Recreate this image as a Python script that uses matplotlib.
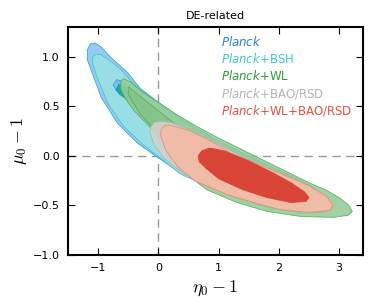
import matplotlib
matplotlib.use('Agg')
import matplotlib.pyplot as plt

plt.rcParams['mathtext.fontset'] = 'dejavusans'

# contour outlines (eta0-1, mu0-1)
planck_95 = [(-1.18, 1.07), (-1.13, 1.13), (-1.05, 1.14), (-0.95, 1.10), (-0.80, 1.00),
             (-0.51, 0.84), (-0.30, 0.68), (0.0, 0.54), (0.30, 0.41), (0.60, 0.29),
             (1.0, 0.15), (1.3, 0.06), (1.6, -0.03), (1.9, -0.12), (2.2, -0.20),
             (2.5, -0.29), (2.7, -0.38), (2.85, -0.48), (2.85, -0.53), (2.78, -0.56),
             (2.35, -0.57), (1.86, -0.52), (1.36, -0.43), (0.86, -0.31), (0.36, -0.17),
             (0.0, -0.02), (-0.35, 0.13), (-0.68, 0.33), (-0.95, 0.59), (-1.10, 0.84),
             (-1.18, 0.97)]
planck_68 = [(-0.75, 0.72), (-0.69, 0.77), (-0.60, 0.75), (-0.3, 0.56), (0.3, 0.28),
             (1.0, 0.02), (1.6, -0.18), (2.1, -0.34), (2.0, -0.40), (1.3, -0.24),
             (0.6, -0.04), (0.1, 0.20), (-0.3, 0.42), (-0.52, 0.57), (-0.70, 0.66)]
bsh_95 = [(-1.09, 1.00), (-1.03, 1.03), (-0.95, 1.02), (-0.80, 0.96), (-0.62, 0.87),
          (-0.40, 0.72), (-0.15, 0.60), (0.0, 0.53), (0.30, 0.40), (0.60, 0.28),
          (1.0, 0.14), (1.3, 0.05), (1.6, -0.04), (1.9, -0.13), (2.2, -0.21),
          (2.5, -0.30), (2.7, -0.39), (2.82, -0.50), (2.75, -0.57), (2.35, -0.58),
          (1.86, -0.53), (1.36, -0.44), (0.86, -0.32), (0.36, -0.18), (0.03, -0.02),
          (-0.25, 0.11), (-0.58, 0.30), (-0.85, 0.54), (-1.02, 0.80), (-1.09, 0.93)]
bsh_68 = [(-0.70, 0.67), (-0.66, 0.72), (-0.60, 0.72), (-0.3, 0.55), (0.3, 0.28),
          (1.0, 0.02), (1.6, -0.19), (2.0, -0.33), (1.9, -0.38), (1.2, -0.20),
          (0.5, 0.02), (0.0, 0.22), (-0.35, 0.45), (-0.50, 0.56), (-0.64, 0.62)]
wl_95 = [(-0.62, 0.76), (-0.57, 0.78), (-0.45, 0.74), (-0.30, 0.66), (0.0, 0.54),
         (0.30, 0.42), (0.60, 0.31), (1.0, 0.18), (1.3, 0.09), (1.6, 0.0),
         (1.9, -0.09), (2.2, -0.18), (2.5, -0.27), (2.8, -0.35), (3.0, -0.42),
         (3.15, -0.49), (3.22, -0.56), (3.15, -0.60), (2.90, -0.62), (2.35, -0.61),
         (1.81, -0.56), (1.3, -0.47), (0.8, -0.34), (0.5, -0.20), (0.25, -0.04),
         (0.08, 0.12), (-0.05, 0.23), (-0.20, 0.33), (-0.41, 0.46), (-0.55, 0.58),
         (-0.63, 0.68)]
wl_68 = [(-0.5, 0.70), (-0.3, 0.60), (0.3, 0.31), (1.0, 0.03), (1.8, -0.22),
         (2.4, -0.40), (2.3, -0.46), (1.5, -0.32), (0.8, -0.14), (0.2, 0.10),
         (-0.3, 0.42), (-0.5, 0.62)]
bao_95 = [(-0.13, 0.29), (-0.07, 0.34), (0.03, 0.35), (0.2, 0.34), (0.5, 0.27),
          (1.0, 0.12), (1.5, -0.04), (2.0, -0.18), (2.5, -0.33), (2.8, -0.44),
          (2.9, -0.52), (2.8, -0.56), (2.3, -0.56), (1.8, -0.51), (1.3, -0.42),
          (0.8, -0.30), (0.4, -0.17), (0.1, -0.03), (-0.08, 0.12), (-0.14, 0.24)]
bao_68 = [(0.35, 0.20), (0.7, 0.14), (1.2, -0.02), (1.8, -0.20), (2.3, -0.36),
          (2.2, -0.43), (1.6, -0.34), (1.0, -0.19), (0.5, 0.0), (0.33, 0.13)]
all_95 = [(0.07, 0.29), (0.13, 0.31), (0.2, 0.31), (0.5, 0.26), (0.9, 0.14),
          (1.2, 0.03), (1.6, -0.07), (2.0, -0.17), (2.5, -0.30), (2.8, -0.41),
          (2.9, -0.50), (2.85, -0.55), (2.5, -0.57), (2.0, -0.54), (1.53, -0.46),
          (1.14, -0.39), (0.6, -0.25), (0.32, -0.11), (0.12, 0.06), (0.03, 0.22)]
all_68 = [(0.66, 0.0), (0.72, 0.05), (0.85, 0.08), (1.1, 0.05), (1.5, -0.05),
          (1.9, -0.17), (2.2, -0.27), (2.42, -0.36), (2.5, -0.42), (2.45, -0.46),
          (2.2, -0.47), (1.8, -0.42), (1.4, -0.34), (1.0, -0.23), (0.8, -0.13),
          (0.68, -0.06)]

labels = ['Planck', 'Planck+BSH', 'Planck+WL', 'Planck+BAO/RSD', 'Planck+WL+BAO/RSD']
label_colors = ['#2b7fe0', '#3cc9c9', '#2e9a35', '#b3b3b3', '#e5503f']

fig = plt.figure(figsize=(3.74, 3.08), dpi=100)
ax = fig.add_axes([0.182, 0.172, 0.789, 0.740])

ax.axvline(0, color='#999999', ls=(0, (6, 4)), lw=1.0, zorder=1)
ax.axhline(0, color='#999999', ls=(0, (6, 4)), lw=1.0, zorder=1)

def draw(pts, face, edge, alpha, z):
    xs = [p[0] for p in pts]
    ys = [p[1] for p in pts]
    ax.fill(xs, ys, facecolor=face, edgecolor=edge, lw=0.6, alpha=alpha, zorder=z)

draw(planck_95, '#8dcaf2', '#3d9be0', 0.95, 2)
draw(bsh_95, '#9ae0e4', '#3fc5cc', 0.95, 3)
draw(planck_68, '#74bdee', '#3d9be0', 0.95, 4)
draw(bsh_68, '#1aa8b0', '#1a9aa5', 1.0, 5)
draw(wl_95, '#94cc96', '#4fae4f', 0.88, 6)
draw(wl_68, '#84c387', '#4fae4f', 0.85, 7)
draw(bao_95, '#cdd1cd', '#b0b0b0', 0.92, 8)
draw(bao_68, '#c6c8c4', '#b0b0b0', 0.9, 9)
draw(all_95, '#f2bba6', '#e88c7a', 0.95, 10)
draw(all_68, '#d84436', '#d84436', 1.0, 11)

for i, (lab, c) in enumerate(zip(labels, label_colors)):
    rest = lab[len('Planck'):]
    txt = r'$\mathit{Planck}$' + rest
    ax.text(0.519, 0.934 - i * 0.0745, txt, color=c, fontsize=8.5,
            transform=ax.transAxes, va='center', ha='left', zorder=20)

ax.set_xlim(-1.5, 3.4)
ax.set_ylim(-1.0, 1.3)
ax.set_xticks([-1, 0, 1, 2, 3])
ax.set_yticks([-1.0, -0.5, 0.0, 0.5, 1.0])
ax.set_yticklabels(['\u22121.0', '\u22120.5', '0.0', '0.5', '1.0'])
ax.set_xticklabels(['\u22121', '0', '1', '2', '3'])
ax.tick_params(direction='in', top=True, right=True, length=5, width=0.8,
               labelsize=8, pad=6)
for s in ax.spines.values():
    s.set_linewidth(1.5)

ax.set_xlabel(r'$\eta_0-1$', fontsize=13, math_fontfamily='cm', labelpad=4)
ax.set_ylabel(r'$\mu_0-1$', fontsize=13, math_fontfamily='cm', labelpad=3)
ax.set_title('DE-related', fontsize=8, pad=6)

fig.savefig('out.png', dpi=100)
